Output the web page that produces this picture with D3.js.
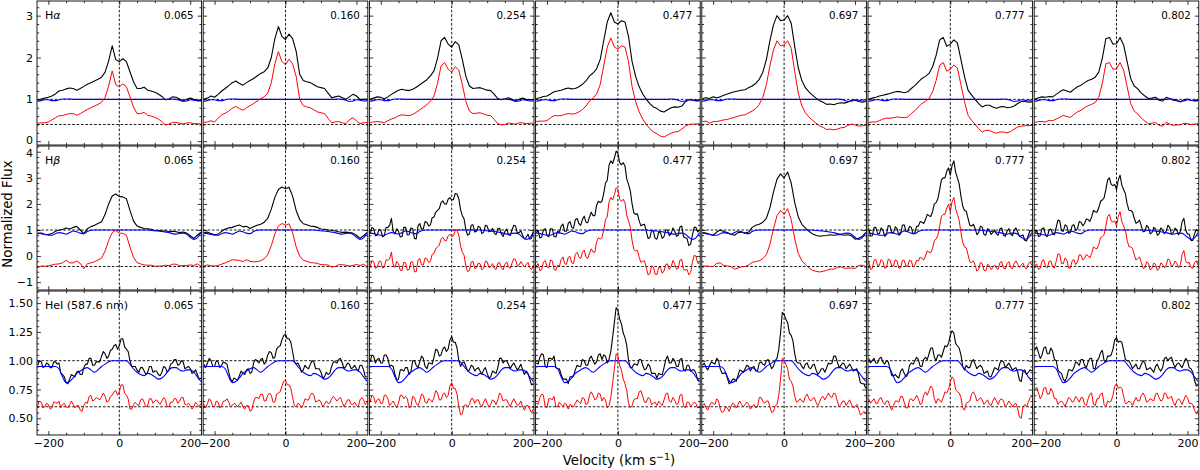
<!DOCTYPE html>
<html><head><meta charset="utf-8">
<script src="https://cdn.jsdelivr.net/npm/d3@7/dist/d3.min.js"></script>
<style>
html,body{margin:0;padding:0;background:#fff;}
svg{display:block;font-family:"DejaVu Sans",sans-serif;}
</style></head>
<body>
<svg id="chart" width="1200" height="470"></svg>
<script>
// ---------------- DATA ----------------
const velocity = [-230,-220,-210,-200,-190,-180,-170,-160,-150,-140,-130,-120,-110,-100,-90,-80,-70,-60,-50,-40,-30,-20,-10,0,10,20,30,40,50,60,70,80,90,100,110,120,130,140,150,160,170,180,190,200,210,220,230];
const velocityFine = [-230,-225,-220,-215,-210,-205,-200,-195,-190,-185,-180,-175,-170,-165,-160,-155,-150,-145,-140,-135,-130,-125,-120,-115,-110,-105,-100,-95,-90,-85,-80,-75,-70,-65,-60,-55,-50,-45,-40,-35,-30,-25,-20,-15,-10,-5,0,5,10,15,20,25,30,35,40,45,50,55,60,65,70,75,80,85,90,95,100,105,110,115,120,125,130,135,140,145,150,155,160,165,170,175,180,185,190,195,200,205,210,215,220,225,230];
const phases = ["0.065","0.160","0.254","0.477","0.697","0.777","0.802"];
const lineNames = ["H", "H", "HeI (587.6 nm)"];
const lineGreek = ["\u03b1", "\u03b2", ""];

const xTicksMajor = [-200, 0, 200];
const xTickLabels = ["\u2212200", "0", "200"];
const xTicksMinor = [-150, -100, -50, 50, 100, 150];

const yTicksHa = [0, 1, 2, 3];
const yLabelsHa = ["0", "1", "2", "3"];
const yTicksHb = [-1, 0, 1, 2, 3, 4];
const yLabelsHb = ["\u22121", "0", "1", "2", "3", "4"];
const yTicksHe = [0.5, 0.75, 1.0, 1.25, 1.5];
const yLabelsHe = ["0.50", "0.75", "1.00", "1.25", "1.50"];

// model (template) spectra, blue
const modelHa = [0.95,0.97,0.99,0.99,0.97,0.97,0.99,1.01,1.01,1.01,1.00,1.00,1.00,1.00,1.00,1.00,1.00,1.00,1.00,1.00,1.00,1.00,1.00,1.00,1.00,1.00,1.00,1.00,1.00,1.00,1.00,1.00,1.00,1.00,1.00,1.00,1.00,1.00,1.01,1.00,0.98,0.95,0.96,0.99,0.98,0.96,0.96];
const modelHb = [0.88,0.86,0.83,0.80,0.80,0.86,0.90,0.88,0.84,0.90,0.96,0.93,0.88,0.86,0.94,0.99,1.00,1.00,1.00,1.00,1.00,1.00,1.00,1.00,1.00,1.00,1.00,1.00,1.00,1.00,1.00,1.00,0.98,0.97,0.96,0.94,0.92,0.90,0.86,0.84,0.87,0.88,0.84,0.72,0.64,0.70,0.90];
const modelHe = [0.95,0.95,0.95,0.95,0.95,0.95,0.93,0.86,0.81,0.82,0.85,0.89,0.91,0.93,0.94,0.92,0.90,0.92,0.95,0.97,0.99,1.00,1.00,1.00,1.00,1.00,0.97,0.93,0.90,0.88,0.87,0.89,0.88,0.86,0.84,0.85,0.88,0.92,0.94,0.94,0.92,0.91,0.92,0.92,0.90,0.86,0.82];

// observed spectra (black), one per phase
const haObserved = [
[0.98,1.01,1.03,1.05,1.08,1.13,1.20,1.22,1.25,1.27,1.26,1.22,1.26,1.31,1.36,1.40,1.44,1.48,1.53,1.65,1.92,2.28,1.95,1.90,1.97,1.90,1.66,1.42,1.26,1.26,1.29,1.22,1.20,1.17,1.13,1.07,0.99,1.01,1.06,1.05,1.01,0.96,1.00,1.03,1.00,0.98,0.97],
[1.00,1.03,1.08,1.05,1.12,1.20,1.26,1.33,1.40,1.44,1.38,1.34,1.40,1.45,1.50,1.56,1.62,1.66,1.75,2.00,2.45,2.74,2.50,2.43,2.56,2.45,2.15,1.60,1.45,1.42,1.40,1.35,1.30,1.28,1.26,1.15,1.04,1.06,1.08,1.04,1.00,1.06,1.12,1.08,1.00,1.00,1.01],
[1.00,1.03,1.06,1.05,1.01,1.06,1.12,1.17,1.22,1.24,1.22,1.21,1.24,1.29,1.35,1.41,1.47,1.56,1.68,1.98,2.40,2.48,2.32,2.25,2.38,2.30,1.95,1.55,1.32,1.26,1.27,1.28,1.25,1.22,1.21,1.12,1.02,0.99,1.01,1.04,1.00,0.96,1.00,1.03,1.00,0.99,0.99],
[1.02,1.04,1.07,1.08,1.13,1.18,1.20,1.22,1.25,1.27,1.25,1.26,1.30,1.36,1.44,1.56,1.63,1.73,1.95,2.40,2.85,3.07,2.85,2.80,2.88,2.85,2.50,1.90,1.55,1.30,1.13,1.00,0.90,0.82,0.78,0.72,0.70,0.75,0.80,0.82,0.81,0.84,0.94,0.99,0.99,0.97,0.98],
[1.02,1.04,1.02,1.06,1.04,1.06,1.10,1.13,1.16,1.18,1.20,1.22,1.23,1.28,1.32,1.38,1.48,1.65,1.95,2.40,2.78,3.00,2.88,2.90,3.00,2.82,2.26,1.75,1.45,1.28,1.18,1.10,1.03,0.97,0.93,0.88,0.89,0.87,0.90,0.92,0.91,0.94,0.97,0.98,0.95,0.93,0.95],
[1.00,1.03,1.05,1.08,1.10,1.12,1.14,1.17,1.19,1.18,1.16,1.18,1.26,1.33,1.42,1.50,1.55,1.62,1.78,2.05,2.42,2.48,2.27,2.32,2.42,2.35,1.95,1.55,1.22,1.10,1.00,0.90,0.82,0.86,0.86,0.82,0.79,0.82,0.83,0.80,0.81,0.84,0.90,0.95,0.95,0.93,0.94],
[1.00,1.04,1.06,1.05,1.07,1.06,1.12,1.18,1.23,1.20,1.17,1.24,1.30,1.34,1.40,1.45,1.48,1.53,1.65,1.98,2.45,2.48,2.32,2.33,2.48,2.30,1.90,1.50,1.32,1.25,1.15,1.08,1.02,1.03,1.05,0.98,0.96,1.05,1.02,0.98,0.97,0.94,0.99,1.01,0.98,0.97,0.98]
];
// residual (observed - model, shifted), red
const haResidual = [
[0.43,0.44,0.44,0.46,0.51,0.56,0.61,0.61,0.64,0.66,0.66,0.62,0.66,0.71,0.76,0.80,0.84,0.88,0.93,1.05,1.32,1.68,1.35,1.30,1.37,1.30,1.06,0.82,0.66,0.66,0.69,0.62,0.60,0.57,0.53,0.47,0.39,0.41,0.45,0.45,0.43,0.41,0.44,0.44,0.42,0.42,0.41],
[0.45,0.46,0.49,0.46,0.55,0.63,0.67,0.72,0.79,0.83,0.78,0.74,0.80,0.85,0.90,0.96,1.02,1.06,1.15,1.40,1.85,2.14,1.90,1.83,1.96,1.85,1.55,1.00,0.85,0.82,0.80,0.75,0.70,0.68,0.66,0.55,0.44,0.46,0.47,0.44,0.42,0.51,0.56,0.49,0.42,0.44,0.45],
[0.45,0.46,0.47,0.46,0.44,0.49,0.53,0.56,0.61,0.63,0.62,0.61,0.64,0.69,0.75,0.81,0.87,0.96,1.08,1.38,1.80,1.88,1.72,1.65,1.78,1.70,1.35,0.95,0.72,0.66,0.67,0.68,0.65,0.62,0.61,0.52,0.42,0.39,0.40,0.44,0.42,0.41,0.44,0.44,0.42,0.43,0.43],
[0.47,0.48,0.48,0.49,0.56,0.61,0.61,0.61,0.64,0.66,0.65,0.66,0.70,0.76,0.84,0.96,1.03,1.13,1.35,1.80,2.25,2.47,2.25,2.20,2.28,2.25,1.90,1.30,0.95,0.70,0.53,0.40,0.30,0.22,0.18,0.12,0.10,0.15,0.19,0.22,0.23,0.29,0.36,0.40,0.41,0.41,0.42],
[0.47,0.48,0.43,0.47,0.47,0.49,0.51,0.52,0.55,0.57,0.60,0.62,0.63,0.68,0.72,0.78,0.88,1.05,1.35,1.80,2.18,2.40,2.28,2.30,2.40,2.22,1.66,1.15,0.85,0.68,0.58,0.50,0.43,0.37,0.33,0.28,0.29,0.27,0.29,0.32,0.33,0.38,0.41,0.39,0.36,0.37,0.39],
[0.45,0.46,0.46,0.49,0.53,0.55,0.55,0.56,0.58,0.57,0.56,0.58,0.66,0.73,0.82,0.90,0.95,1.02,1.18,1.45,1.82,1.88,1.67,1.72,1.82,1.75,1.35,0.95,0.62,0.50,0.40,0.30,0.22,0.26,0.26,0.22,0.19,0.22,0.22,0.20,0.23,0.29,0.34,0.36,0.37,0.37,0.38],
[0.45,0.47,0.47,0.46,0.50,0.49,0.53,0.57,0.62,0.59,0.57,0.64,0.70,0.74,0.80,0.85,0.88,0.93,1.05,1.38,1.85,1.88,1.72,1.73,1.88,1.70,1.30,0.90,0.72,0.65,0.55,0.48,0.42,0.43,0.45,0.38,0.36,0.45,0.41,0.38,0.39,0.39,0.43,0.42,0.40,0.41,0.42]
];

const hbObserved = [
[0.86,0.88,0.84,0.83,0.86,0.95,1.00,1.02,1.08,1.04,1.10,1.14,1.00,0.86,1.05,1.13,1.18,1.25,1.32,1.60,2.00,2.30,2.38,2.28,2.27,2.20,1.75,1.35,1.15,1.10,1.06,1.05,1.03,0.98,0.98,0.96,0.97,0.93,0.95,0.93,0.90,0.92,0.88,0.78,0.68,0.80,0.92],
[0.90,0.92,0.86,0.82,0.84,0.95,1.04,1.08,1.10,1.15,1.19,1.12,1.14,1.06,1.12,1.18,1.22,1.30,1.45,1.80,2.25,2.55,2.65,2.58,2.64,2.30,1.75,1.40,1.24,1.20,1.15,1.14,1.10,1.04,1.03,1.00,0.99,0.96,0.93,0.91,0.92,0.90,0.88,0.80,0.68,0.78,0.90],
[0.85,1.10,1.05,0.78,0.80,1.02,1.00,0.74,0.78,1.09,1.10,1.18,1.45,0.95,0.85,1.05,0.95,0.73,0.75,1.10,1.10,0.81,0.82,1.08,1.05,0.68,0.66,1.15,1.25,1.03,1.05,1.32,1.30,1.15,1.20,1.47,1.50,1.68,1.75,1.82,2.05,2.12,2.00,1.99,2.18,2.24,2.15,2.17,2.40,2.38,2.20,1.78,1.55,1.42,1.00,0.80,0.85,1.18,1.20,0.92,0.95,1.14,1.10,0.86,0.92,1.18,1.15,0.93,0.95,1.06,0.88,0.82,1.05,1.07,0.85,0.75,0.95,1.04,0.82,0.79,1.00,1.18,1.15,0.88,0.90,0.97,0.80,0.66,0.72,0.84,0.65,0.68,0.95],
[0.90,0.98,0.70,0.73,1.00,1.05,0.80,0.74,1.05,1.05,0.75,0.73,0.95,0.90,1.15,1.23,0.95,0.95,1.25,1.32,1.10,1.07,1.40,1.44,1.25,1.18,1.40,1.53,1.30,1.28,1.50,1.68,1.55,1.55,1.95,2.10,2.05,2.10,2.40,2.80,2.90,3.48,3.65,3.55,3.75,4.02,3.95,3.58,3.50,3.58,3.45,2.95,2.75,2.50,2.00,1.65,1.60,1.62,1.35,1.16,1.20,1.22,0.95,0.68,0.70,1.00,0.95,0.68,0.65,0.92,0.90,0.68,0.75,1.00,1.00,0.78,0.85,1.08,0.95,0.76,0.80,1.12,1.15,0.74,0.70,0.67,0.40,0.45,0.80,1.10,1.10,0.93,1.00],
[0.90,0.88,0.84,0.80,0.92,1.00,0.94,0.90,0.84,0.80,0.90,0.92,0.88,0.92,1.10,1.18,1.22,1.30,1.45,1.85,2.45,2.95,3.15,3.00,3.22,2.80,2.05,1.50,1.22,1.08,0.95,0.85,0.80,0.76,0.78,0.79,0.82,0.80,0.82,0.83,0.80,0.82,0.78,0.65,0.68,0.75,0.90],
[1.05,0.77,0.78,1.09,1.10,0.86,0.85,1.08,1.00,0.76,0.82,1.17,1.15,0.90,0.90,1.12,1.05,0.80,0.85,1.18,1.20,0.96,0.95,1.14,1.10,0.85,0.90,1.14,1.15,1.32,1.30,1.25,1.40,1.60,1.55,1.52,1.70,2.00,2.05,2.20,2.55,2.92,3.00,3.00,3.25,3.38,3.10,3.48,3.65,3.22,3.00,2.77,2.30,1.92,1.75,1.72,1.45,1.18,1.15,1.22,1.05,0.82,0.90,1.15,1.10,0.83,0.80,1.05,1.00,0.83,0.90,1.00,0.85,0.80,1.05,1.08,0.80,0.76,0.95,1.05,0.85,0.78,1.00,1.08,0.92,0.75,0.78,0.81,0.60,0.58,0.80,0.98,0.95],
[0.90,0.98,0.75,0.78,1.05,1.08,0.80,0.75,1.00,1.04,0.85,0.82,1.10,1.38,1.35,0.97,0.95,1.20,1.15,0.88,0.90,1.17,1.20,0.98,1.05,1.32,1.30,1.16,1.25,1.42,1.40,1.33,1.50,1.75,1.70,1.68,1.85,2.10,2.15,2.23,2.55,2.92,3.00,2.75,2.70,2.75,2.55,2.92,3.10,2.72,2.55,2.40,2.00,1.76,1.75,1.70,1.45,1.26,1.30,1.38,1.15,0.93,0.95,1.18,1.10,0.85,0.90,1.10,1.05,0.80,0.85,1.08,1.00,0.86,0.95,1.18,1.10,0.85,0.90,1.07,1.00,0.82,0.95,1.32,1.45,1.00,0.85,0.84,0.60,0.60,0.85,1.02,0.95]
];
const hbResidual = [
[-0.42,-0.38,-0.39,-0.37,-0.34,-0.31,-0.30,-0.26,-0.16,-0.26,-0.26,-0.19,-0.28,-0.48,-0.29,-0.26,-0.22,-0.15,-0.08,0.20,0.60,0.90,0.98,0.88,0.87,0.80,0.35,-0.05,-0.25,-0.30,-0.34,-0.35,-0.35,-0.39,-0.38,-0.38,-0.35,-0.37,-0.31,-0.31,-0.37,-0.36,-0.36,-0.34,-0.36,-0.30,-0.38],
[-0.38,-0.34,-0.37,-0.38,-0.36,-0.31,-0.26,-0.20,-0.14,-0.15,-0.17,-0.21,-0.14,-0.20,-0.22,-0.21,-0.18,-0.10,0.05,0.40,0.85,1.15,1.25,1.18,1.24,0.90,0.35,0.00,-0.16,-0.20,-0.25,-0.26,-0.28,-0.33,-0.33,-0.34,-0.42,-0.40,-0.33,-0.33,-0.35,-0.38,-0.36,-0.32,-0.36,-0.32,-0.40],
[-0.43,-0.17,-0.21,-0.47,-0.43,-0.20,-0.20,-0.46,-0.42,-0.14,-0.16,-0.11,0.15,-0.34,-0.43,-0.21,-0.29,-0.54,-0.55,-0.23,-0.26,-0.54,-0.51,-0.22,-0.23,-0.60,-0.60,-0.15,-0.09,-0.34,-0.34,-0.07,-0.10,-0.25,-0.20,0.07,0.10,0.28,0.35,0.42,0.65,0.72,0.60,0.59,0.78,0.84,0.75,0.78,1.00,0.98,0.80,0.38,0.15,0.03,-0.40,-0.60,-0.55,-0.23,-0.20,-0.48,-0.45,-0.26,-0.30,-0.53,-0.46,-0.19,-0.22,-0.44,-0.41,-0.29,-0.46,-0.52,-0.27,-0.24,-0.45,-0.53,-0.31,-0.22,-0.42,-0.47,-0.27,-0.10,-0.13,-0.39,-0.34,-0.21,-0.32,-0.42,-0.32,-0.24,-0.45,-0.52,-0.35],
[-0.38,-0.29,-0.56,-0.52,-0.23,-0.17,-0.40,-0.46,-0.15,-0.18,-0.51,-0.55,-0.35,-0.39,-0.13,-0.03,-0.29,-0.32,-0.05,-0.01,-0.26,-0.28,0.07,0.14,-0.03,-0.10,0.14,0.23,-0.04,-0.09,0.11,0.28,0.15,0.15,0.55,0.70,0.65,0.70,1.00,1.40,1.50,2.08,2.25,2.15,2.35,2.62,2.55,2.18,2.10,2.18,2.05,1.55,1.35,1.10,0.60,0.25,0.20,0.22,-0.05,-0.24,-0.20,-0.18,-0.45,-0.72,-0.68,-0.37,-0.42,-0.69,-0.71,-0.43,-0.44,-0.66,-0.57,-0.32,-0.30,-0.51,-0.41,-0.17,-0.29,-0.50,-0.47,-0.15,-0.13,-0.52,-0.54,-0.51,-0.72,-0.63,-0.24,0.03,0.00,-0.27,-0.30],
[-0.38,-0.38,-0.39,-0.40,-0.28,-0.26,-0.36,-0.38,-0.40,-0.50,-0.46,-0.41,-0.40,-0.34,-0.24,-0.21,-0.18,-0.10,0.05,0.45,1.05,1.55,1.75,1.60,1.82,1.40,0.65,0.10,-0.18,-0.32,-0.45,-0.55,-0.58,-0.61,-0.58,-0.55,-0.50,-0.50,-0.44,-0.41,-0.47,-0.46,-0.46,-0.47,-0.36,-0.35,-0.40],
[-0.23,-0.51,-0.48,-0.16,-0.13,-0.36,-0.35,-0.13,-0.20,-0.47,-0.44,-0.12,-0.15,-0.39,-0.38,-0.14,-0.19,-0.47,-0.45,-0.16,-0.16,-0.39,-0.38,-0.16,-0.18,-0.42,-0.36,-0.16,-0.19,-0.04,-0.09,-0.15,0.00,0.20,0.15,0.13,0.30,0.60,0.65,0.80,1.15,1.52,1.60,1.60,1.85,1.98,1.70,2.08,2.25,1.82,1.60,1.37,0.90,0.52,0.35,0.32,0.05,-0.22,-0.25,-0.18,-0.35,-0.58,-0.50,-0.24,-0.28,-0.55,-0.57,-0.32,-0.36,-0.52,-0.44,-0.34,-0.47,-0.51,-0.25,-0.21,-0.46,-0.50,-0.29,-0.21,-0.42,-0.50,-0.28,-0.18,-0.32,-0.43,-0.34,-0.27,-0.44,-0.49,-0.30,-0.23,-0.35],
[-0.38,-0.30,-0.51,-0.47,-0.18,-0.14,-0.40,-0.45,-0.20,-0.19,-0.41,-0.46,-0.20,0.08,0.07,-0.29,-0.29,-0.07,-0.15,-0.46,-0.46,-0.18,-0.13,-0.33,-0.23,0.05,0.04,-0.15,-0.09,0.06,0.01,-0.07,0.10,0.35,0.30,0.28,0.45,0.70,0.75,0.83,1.15,1.52,1.60,1.35,1.30,1.35,1.15,1.52,1.70,1.32,1.15,1.00,0.60,0.36,0.35,0.30,0.05,-0.15,-0.10,-0.03,-0.25,-0.47,-0.45,-0.22,-0.28,-0.53,-0.47,-0.27,-0.31,-0.55,-0.49,-0.26,-0.32,-0.46,-0.35,-0.11,-0.16,-0.40,-0.34,-0.19,-0.27,-0.45,-0.33,0.06,0.21,-0.18,-0.27,-0.24,-0.44,-0.47,-0.25,-0.18,-0.35]
];

const heObserved = [
[0.96,1.00,0.99,0.94,0.95,0.98,0.97,0.94,0.94,0.99,0.99,0.97,0.98,0.89,0.88,0.86,0.81,0.80,0.84,0.88,0.87,0.86,0.90,0.91,0.88,0.88,0.94,0.97,0.97,1.02,1.02,0.96,0.96,0.99,0.99,0.99,1.04,1.08,1.06,1.02,1.04,1.09,1.10,1.13,1.14,1.10,1.13,1.19,1.19,1.12,1.10,1.08,1.00,0.95,0.95,0.95,0.92,0.90,0.94,0.94,0.91,0.88,0.90,0.95,0.95,0.90,0.91,0.91,0.88,0.87,0.90,0.95,0.94,0.90,0.92,0.97,0.98,1.01,1.01,0.96,0.97,1.00,0.99,0.93,0.94,0.95,0.93,0.89,0.90,0.92,0.88,0.84,0.85],
[0.97,0.94,0.98,1.02,1.00,0.95,0.95,1.00,0.99,0.94,0.96,0.99,0.98,0.97,0.90,0.84,0.82,0.85,0.84,0.83,0.87,0.91,0.89,0.88,0.92,0.93,0.89,0.90,0.98,1.01,1.00,0.98,1.01,1.02,0.97,0.99,1.05,1.08,1.07,1.02,1.03,1.10,1.12,1.13,1.18,1.22,1.23,1.19,1.19,1.16,1.08,0.99,0.97,0.98,0.95,0.90,0.92,0.96,0.94,0.93,0.97,1.00,0.99,0.93,0.93,0.93,0.90,0.85,0.86,0.90,0.88,0.89,0.95,0.99,0.99,0.98,1.01,1.02,0.98,0.93,0.95,0.98,0.97,0.93,0.94,0.96,0.93,0.91,0.96,0.96,0.92,0.86,0.86],
[0.99,1.05,1.04,0.98,1.01,1.02,0.98,0.98,1.05,1.05,1.02,0.95,0.96,0.95,0.88,0.83,0.84,0.92,0.92,0.91,0.94,0.94,0.88,0.90,1.00,1.00,0.96,0.94,0.99,1.04,1.02,0.95,0.93,0.98,0.98,0.97,1.03,1.10,1.09,1.04,1.05,1.10,1.12,1.08,1.10,1.18,1.21,1.16,1.16,1.11,1.00,0.95,0.98,0.99,0.95,0.91,0.92,0.96,0.95,0.91,0.93,0.94,0.91,0.88,0.92,0.94,0.89,0.85,0.86,0.91,0.90,0.89,0.94,1.02,1.02,0.98,1.00,1.00,0.97,0.93,0.96,0.98,0.95,0.92,0.94,0.97,0.92,0.88,0.91,0.89,0.84,0.79,0.80],
[0.98,0.97,1.03,1.06,1.05,0.95,0.94,1.02,1.02,1.01,1.04,0.94,0.93,0.93,0.88,0.84,0.84,0.84,0.80,0.86,0.86,0.87,0.92,0.96,0.95,0.95,1.01,1.00,0.96,0.96,1.02,1.04,1.00,0.97,0.99,1.05,1.06,1.01,1.05,1.04,0.98,1.01,1.08,1.20,1.33,1.46,1.44,1.36,1.32,1.24,1.20,1.13,1.00,0.94,0.94,0.97,0.97,0.96,1.01,1.01,0.96,0.92,0.93,0.97,0.95,0.89,0.89,0.89,0.85,0.89,0.88,0.88,0.94,1.01,1.04,0.98,0.98,1.02,1.00,0.95,0.95,1.01,1.02,0.92,0.91,0.96,0.96,0.91,0.92,0.92,0.89,0.83,0.82],
[0.96,0.98,0.94,0.92,0.96,0.99,0.98,0.97,1.02,1.00,0.93,0.89,0.89,0.90,0.85,0.80,0.81,0.84,0.84,0.82,0.87,0.92,0.91,0.90,0.93,0.96,0.95,0.91,0.94,0.95,0.91,0.91,0.98,0.99,0.97,0.96,1.00,1.01,0.97,0.93,0.95,1.00,1.02,1.10,1.24,1.42,1.40,1.36,1.33,1.24,1.22,1.17,1.06,0.99,0.98,0.98,0.95,0.93,0.97,0.98,0.94,0.93,0.96,0.97,0.92,0.88,0.90,0.93,0.93,0.90,0.94,0.98,0.97,0.98,1.04,1.04,0.99,0.94,0.96,0.98,0.97,0.93,0.95,0.97,0.94,0.91,0.92,0.93,0.88,0.81,0.80,0.80,0.76],
[1.02,0.98,1.00,1.02,0.98,0.98,1.02,1.03,0.99,0.97,1.00,0.99,0.93,0.87,0.87,0.88,0.86,0.85,0.91,0.93,0.89,0.86,0.88,0.96,0.98,0.97,1.00,1.03,1.01,0.95,0.95,1.01,1.03,1.01,1.06,1.11,1.11,1.03,1.00,1.05,1.05,1.03,1.08,1.13,1.12,1.15,1.22,1.26,1.24,1.15,1.13,1.11,1.05,0.95,0.92,0.96,0.94,0.94,0.99,1.01,0.97,0.93,0.95,0.96,0.94,0.89,0.90,0.91,0.86,0.86,0.90,0.94,0.93,0.92,0.98,1.00,0.99,0.94,0.96,0.98,0.95,0.92,0.93,0.94,0.90,0.83,0.82,0.91,0.92,0.88,0.90,0.92,0.91],
[1.10,1.12,1.07,1.02,1.05,1.11,1.12,1.06,1.06,1.11,1.08,1.01,1.00,0.92,0.90,0.89,0.84,0.82,0.86,0.92,0.92,0.91,0.94,0.99,0.98,0.96,1.01,1.01,0.96,0.94,0.99,1.02,1.02,0.93,0.93,1.00,1.02,1.07,1.09,1.00,0.99,1.04,1.04,1.05,1.10,1.18,1.20,1.16,1.17,1.16,1.09,1.01,1.00,1.00,0.97,0.93,0.95,0.97,0.93,0.93,0.97,1.00,0.98,0.92,0.93,0.94,0.92,0.90,0.95,0.97,0.93,0.91,0.94,1.02,1.03,1.00,1.02,1.03,0.98,0.94,0.97,0.98,0.96,0.94,0.98,1.02,1.00,0.94,0.93,0.90,0.83,0.78,0.79]
];
const heResidual = [
[0.61,0.65,0.64,0.59,0.60,0.63,0.62,0.58,0.59,0.64,0.64,0.63,0.65,0.59,0.62,0.63,0.60,0.59,0.62,0.65,0.62,0.59,0.61,0.61,0.57,0.56,0.61,0.64,0.63,0.69,0.70,0.65,0.66,0.68,0.67,0.66,0.69,0.72,0.69,0.64,0.65,0.69,0.70,0.73,0.74,0.70,0.73,0.79,0.79,0.72,0.70,0.67,0.58,0.58,0.62,0.64,0.62,0.61,0.66,0.67,0.64,0.60,0.61,0.67,0.67,0.63,0.65,0.66,0.64,0.62,0.65,0.68,0.66,0.60,0.60,0.64,0.64,0.67,0.67,0.63,0.65,0.68,0.68,0.62,0.62,0.63,0.61,0.58,0.60,0.64,0.62,0.60,0.63],
[0.62,0.59,0.63,0.67,0.65,0.60,0.60,0.65,0.64,0.59,0.61,0.65,0.65,0.67,0.64,0.60,0.61,0.63,0.62,0.60,0.62,0.64,0.60,0.58,0.61,0.61,0.56,0.57,0.64,0.68,0.68,0.67,0.71,0.71,0.65,0.65,0.70,0.72,0.70,0.64,0.64,0.71,0.72,0.73,0.78,0.82,0.83,0.79,0.79,0.76,0.68,0.61,0.60,0.63,0.62,0.59,0.62,0.67,0.66,0.66,0.70,0.72,0.70,0.64,0.65,0.66,0.64,0.60,0.62,0.65,0.63,0.63,0.67,0.69,0.67,0.65,0.67,0.68,0.64,0.60,0.63,0.66,0.66,0.62,0.62,0.64,0.61,0.60,0.66,0.68,0.66,0.62,0.64],
[0.64,0.70,0.69,0.63,0.66,0.67,0.63,0.63,0.70,0.70,0.67,0.61,0.63,0.65,0.62,0.59,0.63,0.70,0.70,0.67,0.69,0.67,0.59,0.60,0.69,0.68,0.63,0.61,0.65,0.71,0.70,0.64,0.63,0.67,0.66,0.64,0.68,0.74,0.72,0.66,0.66,0.71,0.72,0.68,0.70,0.78,0.81,0.76,0.76,0.71,0.60,0.53,0.54,0.61,0.62,0.60,0.62,0.67,0.67,0.63,0.66,0.66,0.62,0.60,0.64,0.67,0.63,0.60,0.62,0.66,0.65,0.62,0.66,0.72,0.70,0.65,0.66,0.66,0.63,0.60,0.64,0.67,0.64,0.61,0.62,0.65,0.60,0.57,0.61,0.61,0.58,0.55,0.58],
[0.63,0.62,0.68,0.71,0.70,0.60,0.59,0.67,0.67,0.66,0.69,0.60,0.60,0.64,0.62,0.60,0.63,0.62,0.58,0.62,0.61,0.60,0.63,0.66,0.64,0.63,0.68,0.67,0.62,0.63,0.70,0.73,0.70,0.66,0.67,0.72,0.71,0.65,0.68,0.66,0.59,0.61,0.68,0.80,0.93,1.06,1.04,0.96,0.92,0.84,0.80,0.74,0.63,0.59,0.61,0.66,0.67,0.67,0.73,0.74,0.69,0.64,0.64,0.68,0.67,0.62,0.63,0.64,0.61,0.65,0.63,0.61,0.66,0.71,0.72,0.65,0.64,0.68,0.66,0.62,0.63,0.70,0.71,0.61,0.59,0.64,0.64,0.60,0.62,0.64,0.63,0.59,0.60],
[0.61,0.63,0.59,0.57,0.61,0.64,0.63,0.62,0.67,0.65,0.58,0.55,0.56,0.60,0.59,0.56,0.60,0.63,0.62,0.59,0.62,0.65,0.62,0.60,0.62,0.64,0.62,0.58,0.60,0.62,0.59,0.60,0.68,0.68,0.65,0.63,0.65,0.65,0.60,0.55,0.56,0.61,0.62,0.70,0.84,1.02,1.00,0.97,0.93,0.84,0.82,0.78,0.69,0.64,0.65,0.67,0.65,0.64,0.69,0.71,0.67,0.65,0.67,0.68,0.64,0.61,0.64,0.68,0.69,0.66,0.69,0.72,0.69,0.68,0.72,0.71,0.65,0.60,0.62,0.65,0.65,0.61,0.64,0.66,0.62,0.59,0.60,0.62,0.58,0.53,0.54,0.56,0.54],
[0.67,0.63,0.65,0.67,0.63,0.63,0.67,0.68,0.64,0.62,0.65,0.65,0.60,0.57,0.61,0.65,0.65,0.64,0.69,0.69,0.64,0.59,0.59,0.66,0.67,0.65,0.67,0.70,0.67,0.62,0.63,0.70,0.73,0.70,0.74,0.78,0.76,0.67,0.63,0.67,0.66,0.64,0.68,0.73,0.72,0.75,0.82,0.86,0.84,0.75,0.73,0.72,0.68,0.59,0.57,0.63,0.64,0.65,0.71,0.73,0.70,0.65,0.66,0.68,0.66,0.62,0.64,0.66,0.62,0.61,0.65,0.68,0.65,0.62,0.66,0.67,0.65,0.60,0.62,0.65,0.63,0.60,0.62,0.63,0.58,0.51,0.50,0.60,0.62,0.60,0.64,0.68,0.69],
[0.75,0.77,0.72,0.67,0.70,0.76,0.77,0.71,0.71,0.76,0.73,0.67,0.67,0.62,0.64,0.65,0.63,0.60,0.64,0.68,0.67,0.64,0.65,0.69,0.67,0.64,0.68,0.68,0.62,0.61,0.67,0.71,0.72,0.62,0.61,0.67,0.67,0.71,0.72,0.62,0.60,0.65,0.64,0.65,0.70,0.78,0.80,0.76,0.77,0.76,0.69,0.63,0.63,0.65,0.64,0.61,0.65,0.68,0.65,0.65,0.70,0.72,0.69,0.64,0.65,0.67,0.66,0.65,0.71,0.72,0.68,0.65,0.66,0.72,0.71,0.67,0.68,0.69,0.64,0.61,0.65,0.67,0.65,0.62,0.66,0.70,0.68,0.63,0.63,0.62,0.57,0.54,0.57]
];

// ---------------- LAYOUT ----------------
const svg = d3.select("#chart");
const left0 = 37, colStep = 166.2, panelW = 164.6, panelH = 144;
const rowTops = [1, 146, 291];
const xDomain = [-232, 232];

const rows = [
  {obs: haObserved, res: haResidual, model: modelHa, domain: [-0.09, 3.35], ticks: yTicksHa, labels: yLabelsHa, minorStep: 0.2, refs: [1, 0.4]},
  {obs: hbObserved, res: hbResidual, model: modelHb, domain: [-1.3, 4.22], ticks: yTicksHb, labels: yLabelsHb, minorStep: 0.2, refs: [1, -0.4]},
  {obs: heObserved, res: heResidual, model: modelHe, domain: [0.355, 1.605], ticks: yTicksHe, labels: yLabelsHe, minorStep: 0.05, refs: [1, 0.6]}
];

const defs = svg.append("defs");

function styleAxis(g, showLabels) {
  g.select(".domain").remove();
  g.selectAll(".tick line").attr("stroke", "#000").attr("stroke-width", 0.8);
  g.attr("font-family", "DejaVu Sans, sans-serif").attr("font-size", 11);
  g.selectAll(".tick text").attr("fill", "#000");
  if (!showLabels) g.selectAll(".tick text").remove();
}
function gridFor(arr) { return arr.length === velocityFine.length ? velocityFine : velocity; }

rows.forEach((row, r) => {
  const top = rowTops[r];
  const y = d3.scaleLinear().domain(row.domain).range([top + panelH, top]);
  const minorVals = d3.range(Math.ceil(row.domain[0] / row.minorStep) * row.minorStep, row.domain[1], row.minorStep)
      .map(v => +v.toFixed(3)).filter(v => !row.ticks.some(t => Math.abs(t - v) < 1e-6));

  phases.forEach((ph, c) => {
    const left = left0 + c * colStep;
    const x = d3.scaleLinear().domain(xDomain).range([left, left + panelW]);
    const clipId = "clip-" + r + "-" + c;
    defs.append("clipPath").attr("id", clipId).append("rect")
      .attr("x", left).attr("y", top).attr("width", panelW).attr("height", panelH);

    const plot = svg.append("g").attr("clip-path", "url(#" + clipId + ")");

    row.refs.forEach(v => {
      plot.append("line").attr("x1", left).attr("x2", left + panelW).attr("y1", y(v)).attr("y2", y(v))
        .attr("stroke", "#000").attr("stroke-width", 0.9).attr("stroke-dasharray", "2.6,1.8");
    });
    plot.append("line").attr("x1", x(0)).attr("x2", x(0)).attr("y1", top).attr("y2", top + panelH)
      .attr("stroke", "#000").attr("stroke-width", 0.9).attr("stroke-dasharray", "2.6,1.8");

    const mkLine = (arr) => { const g = gridFor(arr); return d3.line().x((d, i) => x(g[i])).y(d => y(d)); };
    const lineSmooth = d3.line().x((d, i) => x(velocity[i])).y(d => y(d)).curve(d3.curveMonotoneX);

    const obs = row.obs[c], res = row.res[c];
    plot.append("path").datum(obs).attr("d", mkLine(obs))
      .attr("fill", "none").attr("stroke", "#000").attr("stroke-width", 1.1).attr("stroke-linejoin", "round");
    plot.append("path").datum(row.model).attr("d", lineSmooth)
      .attr("fill", "none").attr("stroke", "#0000ff").attr("stroke-width", 1.1);
    plot.append("path").datum(res).attr("d", mkLine(res))
      .attr("fill", "none").attr("stroke", "#ff0000").attr("stroke-width", 1.0).attr("stroke-linejoin", "round");

    const gb = svg.append("g").attr("transform", "translate(0," + (top + panelH) + ")")
      .call(d3.axisBottom(x).tickValues(xTicksMajor).tickSizeInner(-3.9).tickSizeOuter(0).tickPadding(4)
        .tickFormat((d, i) => xTickLabels[i]));
    styleAxis(gb, r === 2);
    const gbm = svg.append("g").attr("transform", "translate(0," + (top + panelH) + ")")
      .call(d3.axisBottom(x).tickValues(xTicksMinor).tickSizeInner(-2.2).tickSizeOuter(0).tickFormat(""));
    styleAxis(gbm, false);
    const gt = svg.append("g").attr("transform", "translate(0," + top + ")")
      .call(d3.axisTop(x).tickValues(xTicksMajor).tickSizeInner(-3.9).tickSizeOuter(0).tickFormat(""));
    styleAxis(gt, false);
    const gtm = svg.append("g").attr("transform", "translate(0," + top + ")")
      .call(d3.axisTop(x).tickValues(xTicksMinor).tickSizeInner(-2.2).tickSizeOuter(0).tickFormat(""));
    styleAxis(gtm, false);

    const gl = svg.append("g").attr("transform", "translate(" + left + ",0)")
      .call(d3.axisLeft(y).tickValues(row.ticks).tickSizeInner(-3.9).tickSizeOuter(0).tickPadding(4)
        .tickFormat((d, i) => row.labels[i]));
    styleAxis(gl, c === 0);
    // keep the adjoining "0" (top row) and "4" (middle row) labels apart
    if (c === 0 && r === 0) gl.selectAll(".tick text").filter(d => d === 0).attr("y", -1.6);
    if (c === 0 && r === 1) gl.selectAll(".tick text").filter(d => d === 4).attr("y", 1.6);
    const glm = svg.append("g").attr("transform", "translate(" + left + ",0)")
      .call(d3.axisLeft(y).tickValues(minorVals).tickSizeInner(-2.2).tickSizeOuter(0).tickFormat(""));
    styleAxis(glm, false);
    const gr = svg.append("g").attr("transform", "translate(" + (left + panelW) + ",0)")
      .call(d3.axisRight(y).tickValues(row.ticks).tickSizeInner(-3.9).tickSizeOuter(0).tickFormat(""));
    styleAxis(gr, false);
    const grm = svg.append("g").attr("transform", "translate(" + (left + panelW) + ",0)")
      .call(d3.axisRight(y).tickValues(minorVals).tickSizeInner(-2.2).tickSizeOuter(0).tickFormat(""));
    styleAxis(grm, false);

    svg.append("rect").attr("x", left).attr("y", top).attr("width", panelW).attr("height", panelH)
      .attr("fill", "none").attr("stroke", "#000").attr("stroke-width", 0.9);

    svg.append("text").attr("x", left + panelW - 8).attr("y", top + 18).attr("text-anchor", "end")
      .attr("font-size", 10.3).attr("fill", "#000").text(ph);

    if (c === 0) {
      const t = svg.append("text").attr("x", left + 8).attr("y", top + 18)
        .attr("font-size", 11).attr("fill", "#000");
      t.append("tspan").text(lineNames[r]);
      if (lineGreek[r]) t.append("tspan").attr("font-style", "italic").text(lineGreek[r]);
    }
  });
});

svg.append("text").attr("transform", "translate(12,214) rotate(-90)").attr("text-anchor", "middle")
  .attr("font-size", 13.3).attr("fill", "#000").text("Normalized Flux");

const xl = svg.append("text").attr("x", 619).attr("y", 465).attr("text-anchor", "middle")
  .attr("font-size", 13.3).attr("fill", "#000");
xl.append("tspan").text("Velocity (km s");
xl.append("tspan").attr("dy", -5).attr("font-size", 9.5).text("\u22121");
xl.append("tspan").attr("dy", 5).text(")");
</script>
</body></html>
